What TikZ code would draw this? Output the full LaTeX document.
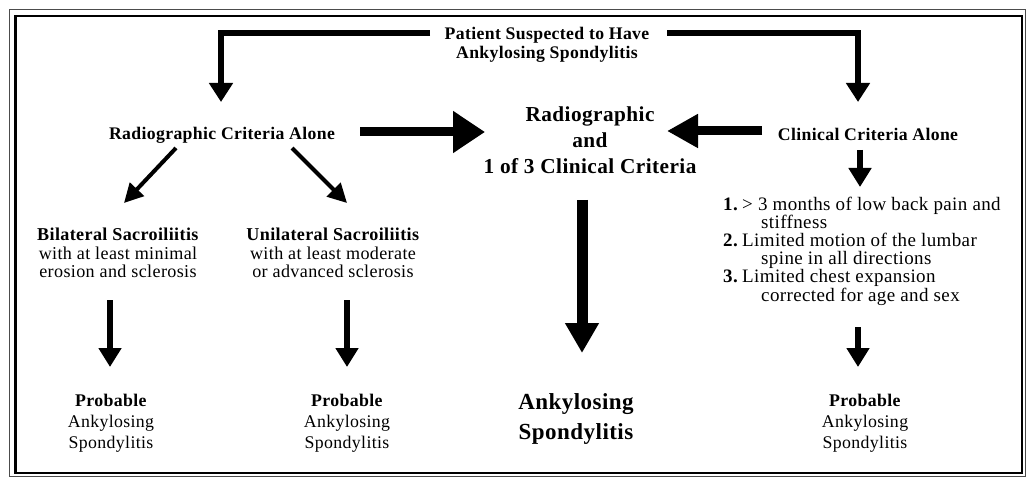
\documentclass[tikz,border=0pt]{standalone}
\usepackage{fontspec}
\setmainfont{Liberation Serif}[LetterSpace=2]
\usetikzlibrary{arrows.meta,calc}

\begin{document}
\begin{tikzpicture}[x=1pt,y=-1pt,
  body/.style={inner sep=0pt, align=center, font=\fontsize{18.1}{18.6}\selectfont},
  head/.style={inner sep=0pt, align=center, font=\bfseries\fontsize{17.7}{18.5}\selectfont},
  bighead/.style={inner sep=0pt, align=center, font=\bfseries\fontsize{21.3}{26}\selectfont},
  resulthead/.style={inner sep=0pt, align=center, font=\bfseries\fontsize{23}{29.5}\selectfont},
  elbow/.style={line width=6pt, line join=miter, -{Triangle[length=19pt,width=23pt]}},
  wide/.style={line width=9pt, -{Triangle[length=32pt,width=40pt]}},
  wideleft/.style={line width=9pt, -{Triangle[length=31pt,width=32pt]}},
  slant/.style={line width=4pt, -{Triangle[length=19pt,width=19pt]}},
  drop/.style={line width=6pt, -{Triangle[length=19pt,width=22pt]}},
  bigdrop/.style={line width=11pt, -{Triangle[length=30pt,width=32pt]}},
]
\useasboundingbox (0,0) rectangle (1027,478);

% frame
\draw[line width=1pt, black!70] (9.5,9.5) rectangle (1025,476);
\draw[line width=2.5pt] (15.5,16) rectangle (1022,473);

% nodes
\node[head] (top) at (547,45) {Patient Suspected to Have\\Ankylosing Spondylitis};
\node[head] (radalone) at (222,135) {Radiographic Criteria Alone};
\node[head] (clinalone) at (868,134) {Clinical Criteria Alone};
\node[bighead] (combo) at (590,140) {Radiographic\\and\\1 of 3 Clinical Criteria};
\node[body] (bilat) at (118,253) {\textbf{Bilateral Sacroiliitis}\\with at least minimal\\erosion and sclerosis};
\node[body] (unilat) at (333,253) {\textbf{Unilateral Sacroiliitis}\\with at least moderate\\or advanced sclerosis};
\node[body, align=left, anchor=west, font=\fontsize{19}{18.2}\selectfont] (list) at (723,251)
  {\makebox[19pt][l]{\textbf{1.}}> 3 months of low back pain and\\
   \hspace*{38pt}stiffness\\
   \makebox[19pt][l]{\textbf{2.}}Limited motion of the lumbar\\
   \hspace*{38pt}spine in all directions\\
   \makebox[19pt][l]{\textbf{3.}}Limited chest expansion\\
   \hspace*{38pt}corrected for age and sex};
\node[body, font=\fontsize{17.8}{21}\selectfont] (prob1) at (111,423) {\textbf{Probable}\\Ankylosing\\Spondylitis};
\node[body, font=\fontsize{17.8}{21}\selectfont] (prob2) at (347,423) {\textbf{Probable}\\Ankylosing\\Spondylitis};
\node[body, font=\fontsize{17.8}{21}\selectfont] (prob3) at (865,423) {\textbf{Probable}\\Ankylosing\\Spondylitis};
\node[resulthead] (ankspond) at (576,419) {Ankylosing\\Spondylitis};

% connectors
\draw[elbow] ($(top.center)+(-117,-12)$) -| ($(radalone.center)+(-1,-33)$);
\draw[elbow] ($(top.center)+(120,-12)$) -| ($(clinalone.center)+(-10,-32)$);
\draw[wide] ($(radalone.center)+(138,-3)$) -- ($(combo.center)+(-105,-8)$);
\draw[wideleft] ($(clinalone.center)+(-106,-3)$) -- ($(combo.center)+(77,-9)$);
\draw[slant] ($(radalone.center)+(-46,13)$) -- ($(bilat.center)+(6,-50)$);
\draw[slant] ($(radalone.center)+(70,13)$) -- ($(unilat.center)+(14,-50)$);
\draw[drop] ($(bilat.center)+(-8,47)$) -- ($(prob1.center)+(-1,-56)$);
\draw[drop] ($(unilat.center)+(14,47)$) -- ($(prob2.center)+(0,-56)$);
\draw[bigdrop] ($(combo.center)+(-8,60)$) -- ($(ankspond.center)+(6,-66)$);
\draw[drop] ($(clinalone.center)+(-8,16)$) -- ($(list.west)+(137,-64)$);
\draw[drop] ($(list.west)+(135,76)$) -- ($(prob3.center)+(-7,-56)$);
\end{tikzpicture}
\end{document}
